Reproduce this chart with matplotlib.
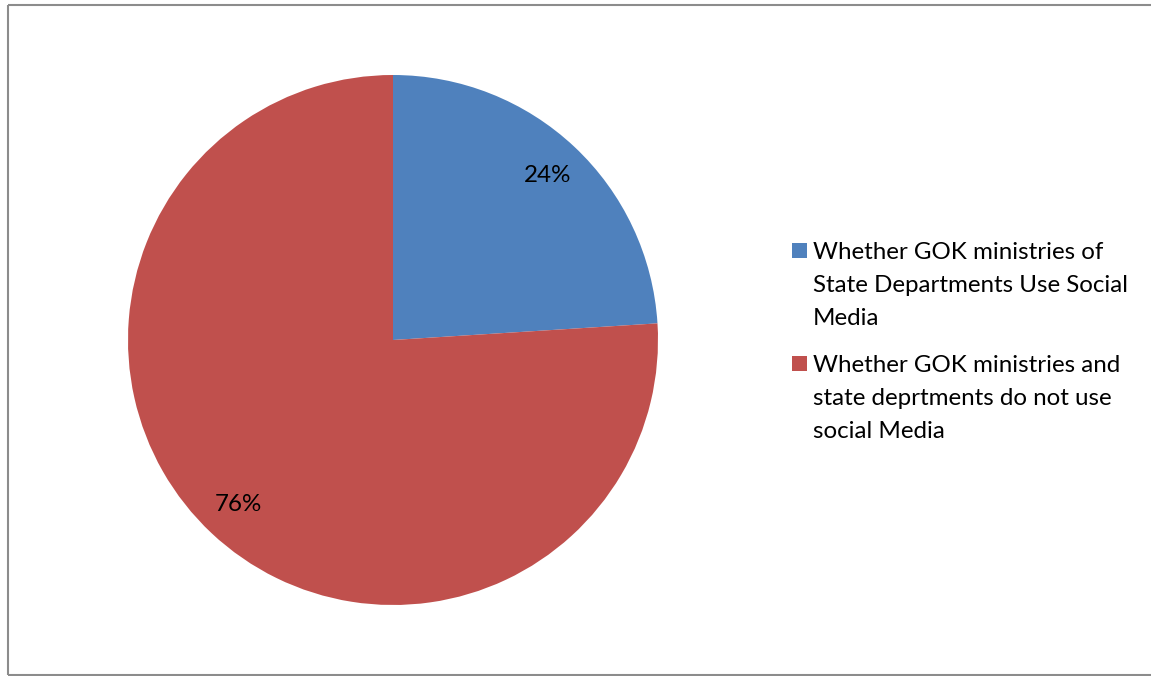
import matplotlib
matplotlib.use("Agg")
import matplotlib.pyplot as plt
from matplotlib.patches import Rectangle
from matplotlib.lines import Line2D

labels = ["Whether GOK ministries of\nState Departments Use Social\nMedia",
          "Whether GOK ministries and\nstate deprtments do not use\nsocial Media"]
values = [24, 76]
colors = ["#4F81BD", "#C0504D"]

W, H = 1151, 676
plt.rcParams['font.family'] = ['Lato', 'DejaVu Sans']

fig = plt.figure(figsize=(W / 100, H / 100), dpi=100)

# outer chart frame: left, top and bottom edges only
frame = dict(color="#8c8c8c", linewidth=1.5, transform=fig.transFigure,
             solid_capstyle='butt')
fig.lines.append(Line2D([8 / W, 8 / W], [1 - 5 / H, 1 - 675 / H], **frame))
fig.lines.append(Line2D([8 / W, 1.05], [1 - 5 / H, 1 - 5 / H], **frame))
fig.lines.append(Line2D([8 / W, 1.05], [1 - 675 / H, 1 - 675 / H], **frame))

cx, cy, r = 393, 340, 265
ax = fig.add_axes([(cx - r) / W, (H - cy - r) / H, 2 * r / W, 2 * r / H])
ax.pie(values, colors=colors, startangle=90, counterclock=False,
       autopct=lambda p: "%d%%" % round(p), pctdistance=0.85,
       textprops={'fontsize': 17.4, 'color': 'black'},
       wedgeprops={'linewidth': 0})
ax.set_xlim(-1, 1)
ax.set_ylim(-1, 1)
ax.set_aspect('equal')
ax.axis('off')

# legend drawn by hand: colour square plus wrapped label lines
first_baselines = [259, 372]
line_step = 33
for lab, col, y0 in zip(labels, colors, first_baselines):
    fig.patches.append(Rectangle((792 / W, 1 - (y0 - 1) / H), 15 / W, 15 / H,
                                 transform=fig.transFigure, facecolor=col,
                                 edgecolor='none'))
    for i, part in enumerate(lab.split("\n")):
        fig.text(813 / W, 1 - (y0 + i * line_step) / H, part, fontsize=17.4,
                 va='baseline', ha='left', color='black')

fig.savefig("out.png", dpi=100, facecolor='white')
